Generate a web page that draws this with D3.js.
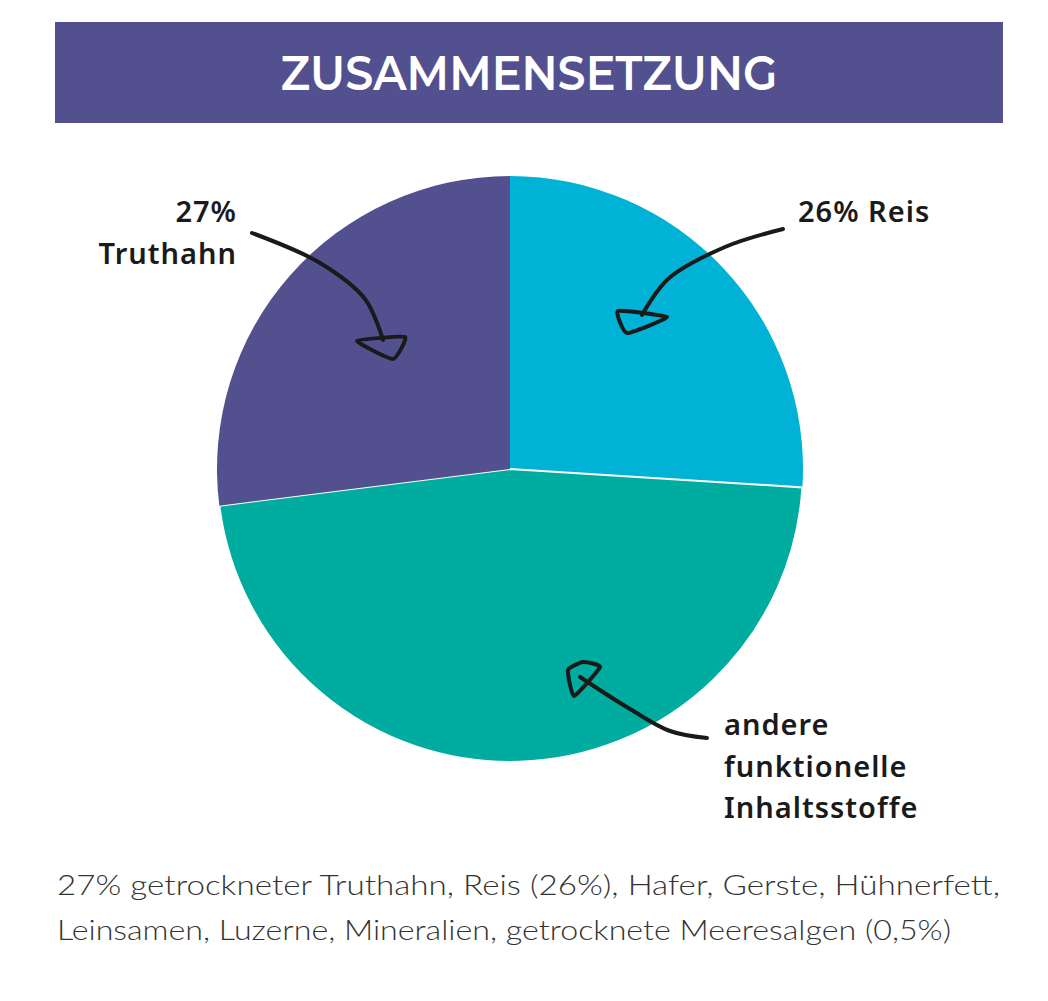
<!DOCTYPE html>
<html><head><meta charset="utf-8">
<script src="https://cdn.jsdelivr.net/npm/d3@7"></script>
<style>html,body{margin:0;padding:0;background:#fff;}svg{display:block;}</style>
</head><body>
<script>
const categories = ["Reis", "andere funktionelle Inhaltsstoffe", "Truthahn"];
const values = [26, 47, 27];
const labelLines = [["26% Reis"], ["andere", "funktionelle", "Inhaltsstoffe"], ["27%", "Truthahn"]];
const titleText = "ZUSAMMENSETZUNG";
const footerLines = [
  "27% getrockneter Truthahn, Reis (26%), Hafer, Gerste, Hühnerfett,",
  "Leinsamen, Luzerne, Mineralien, getrocknete Meeresalgen (0,5%)"
];

const W = 1048, H = 1001;
const colors = ["#00b2d6", "#00ab9f", "#535090"];
const svg = d3.select("body").append("svg").attr("width", W).attr("height", H);

// title bar
svg.append("rect").attr("x", 55).attr("y", 22).attr("width", 948).attr("height", 101).attr("fill", "#535090");
svg.append("text").attr("x", 529).attr("y", 90).attr("text-anchor", "middle")
  .attr("font-family", "Montserrat, 'Open Sans', sans-serif").attr("font-weight", 600)
  .attr("font-size", 48).attr("fill", "#fff").attr("textLength", 497).attr("lengthAdjust", "spacingAndGlyphs")
  .text(titleText);

// pie
const cx = 510, cy = 469, R = 293;
const pie = d3.pie().sort(null).value(d => d)(values);
const arc = d3.arc().innerRadius(0).outerRadius(R);
const g = svg.append("g").attr("transform", `translate(${cx},${cy})`);
g.selectAll("path").data(pie).join("path")
  .attr("d", arc).attr("fill", (d, i) => colors[i])
  .attr("stroke", (d, i) => i === 1 ? "#fff" : "none").attr("stroke-width", 2);

// annotations (relative to pie center)
const ann = [
  { text: [798, 222], anchor: "start",
    line: [[273, -240], [215, -222], [158, -190], [132, -154]],
    loop: [[108, -158], [157, -152], [117, -136]] },
  { text: [724, 735], anchor: "start",
    line: [[197, 269], [160, 262], [120, 240], [70, 208]],
    loop: [[64, 227], [58, 201], [73, 193], [90, 198]] },
  { text: [237, 222], anchor: "end",
    line: [[-258, -236], [-190, -206], [-145, -170], [-127, -129]],
    loop: [[-153, -128], [-105, -132], [-117, -110]] }
];
const lineGen = d3.line().curve(d3.curveCatmullRom.alpha(0.5));
const loopGen = d3.line().curve(d3.curveCardinalClosed.tension(0.55));
const ag = g.append("g").attr("fill", "none").attr("stroke", "#1a1a1a").attr("stroke-width", 4)
  .attr("stroke-linecap", "round").attr("stroke-linejoin", "round");
ann.forEach(a => {
  ag.append("path").attr("d", lineGen(a.line));
  ag.append("path").attr("d", loopGen(a.loop));
});

labelLines.forEach((lines, i) => {
  const a = ann[i];
  const t = svg.append("text").attr("x", a.text[0]).attr("y", a.text[1])
    .attr("text-anchor", a.anchor).attr("font-family", "'Noto Sans', sans-serif").attr("font-weight", 600)
    .attr("font-size", 29).attr("letter-spacing", 1).attr("fill", "#1a1a1a");
  lines.forEach((l, j) => t.append("tspan").attr("x", a.text[0]).attr("dy", j === 0 ? 0 : 41.5).text(l));
});

// footer
footerLines.forEach((l, i) => {
  svg.append("text").attr("x", 57).attr("y", 895 + i * 45)
    .attr("font-family", "Lato, sans-serif").attr("font-weight", 300)
    .attr("font-size", 28).attr("fill", "#333")
    .attr("textLength", i === 0 ? 943 : 894).attr("lengthAdjust", "spacingAndGlyphs")
    .text(l);
});
</script>
</body></html>
